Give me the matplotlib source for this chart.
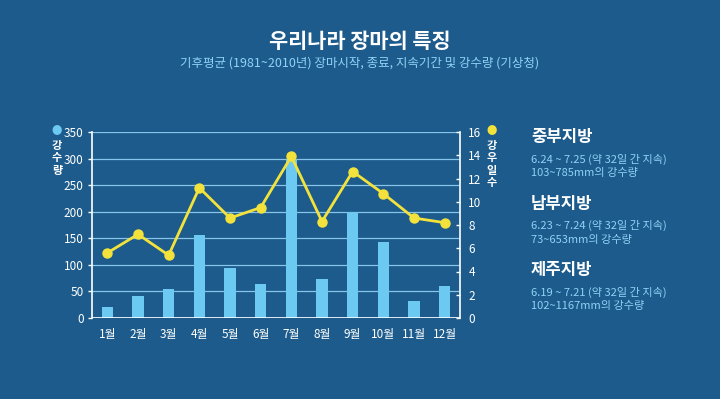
import matplotlib.pyplot as plt

plt.rcParams['font.family'] = ['Noto Sans CJK KR', 'DejaVu Sans']

# data
months = ['1월', '2월', '3월', '4월', '5월', '6월', '7월', '8월', '9월', '10월', '11월', '12월']
rainfall = [21, 42, 54, 156, 95, 64, 298, 73, 200, 143, 32, 61]
rain_days = [5.6, 7.2, 5.4, 11.2, 8.6, 9.5, 13.9, 8.3, 12.6, 10.7, 8.6, 8.2]

regions = ['중부지방', '남부지방', '제주지방']
periods = ['6.24 ~ 7.25 (약 32일 간 지속)', '6.23 ~ 7.24 (약 32일 간 지속)', '6.19 ~ 7.21 (약 32일 간 지속)']
amounts = ['103~785mm의 강수량', '73~653mm의 강수량', '102~1167mm의 강수량']

bg = '#1c5b8b'
bar_color = '#6ccaf2'
line_color = '#f4e23c'
light_text = '#8fd3f7'

fig = plt.figure(figsize=(7.2, 3.99), dpi=100, facecolor=bg)
ax1 = fig.add_axes([92 / 720, 1 - 318 / 399, 368 / 720, 186 / 399])
ax1.set_facecolor(bg)

x = range(len(months))
ax1.bar(x, rainfall, width=0.36, color=bar_color, zorder=2)
ax1.set_ylim(0, 350)
ax1.set_xlim(-0.5, 11.5)
ax1.set_yticks(range(0, 351, 50))
ax1.set_xticks(list(x))
ax1.set_xticklabels(months)
ax1.yaxis.grid(True, color='#86c4ea', linewidth=0.9, zorder=0)
ax1.set_axisbelow(True)

ax2 = ax1.twinx()
ax2.plot(x, rain_days, color=line_color, linewidth=2, marker='o', markersize=6.5, zorder=3)
ax2.set_ylim(0, 16)
ax2.set_yticks(range(0, 17, 2))

for a in (ax1, ax2):
    for s in a.spines.values():
        s.set_visible(False)
    a.tick_params(colors='white', labelsize=8.5, length=3, width=1)
ax1.spines['left'].set_visible(True)
ax1.spines['left'].set_color('white')
ax1.spines['left'].set_linewidth(1.2)
ax2.spines['right'].set_visible(True)
ax2.spines['right'].set_color('white')
ax2.spines['right'].set_linewidth(1.2)
ax1.tick_params(axis='x', length=0, pad=7)
ax2.tick_params(axis='y', direction='in', pad=6)
ax1.tick_params(axis='y', pad=3)
ax1.axhline(0, color='white', linewidth=1.2, zorder=4)

# axis legends
fig.text(57 / 720, 1 - 131 / 399, '●', color=bar_color, fontsize=7.5, ha='center', va='center')
fig.text(57 / 720, 1 - 158 / 399, '강\n수\n량', color='white', fontsize=8, ha='center', va='center',
         linespacing=0.95, fontweight='bold')
fig.text(492 / 720, 1 - 131 / 399, '●', color=line_color, fontsize=7.5, ha='center', va='center')
fig.text(492 / 720, 1 - 164 / 399, '강\n우\n일\n수', color='white', fontsize=8, ha='center', va='center',
         linespacing=0.95, fontweight='bold')

# titles
fig.text(0.5, 1 - 42 / 399, '우리나라 장마의 특징', color='white', fontsize=15, fontweight='bold',
         ha='center', va='center')
fig.text(0.5, 1 - 63 / 399, '기후평균 (1981~2010년) 장마시작, 종료, 지속기간 및 강수량 (기상청)',
         color=light_text, fontsize=9, ha='center', va='center')

# side notes
for i in range(len(regions)):
    y0 = 137 + i * 66.5
    fig.text(531 / 720, 1 - y0 / 399, regions[i], color='white', fontsize=12, fontweight='bold',
             ha='left', va='center')
    fig.text(531 / 720, 1 - (y0 + 22) / 399, periods[i], color=light_text, fontsize=8,
             ha='left', va='center')
    fig.text(531 / 720, 1 - (y0 + 36) / 399, amounts[i], color=light_text, fontsize=8,
             ha='left', va='center')

fig.savefig('out.png', dpi=100, facecolor=bg)
